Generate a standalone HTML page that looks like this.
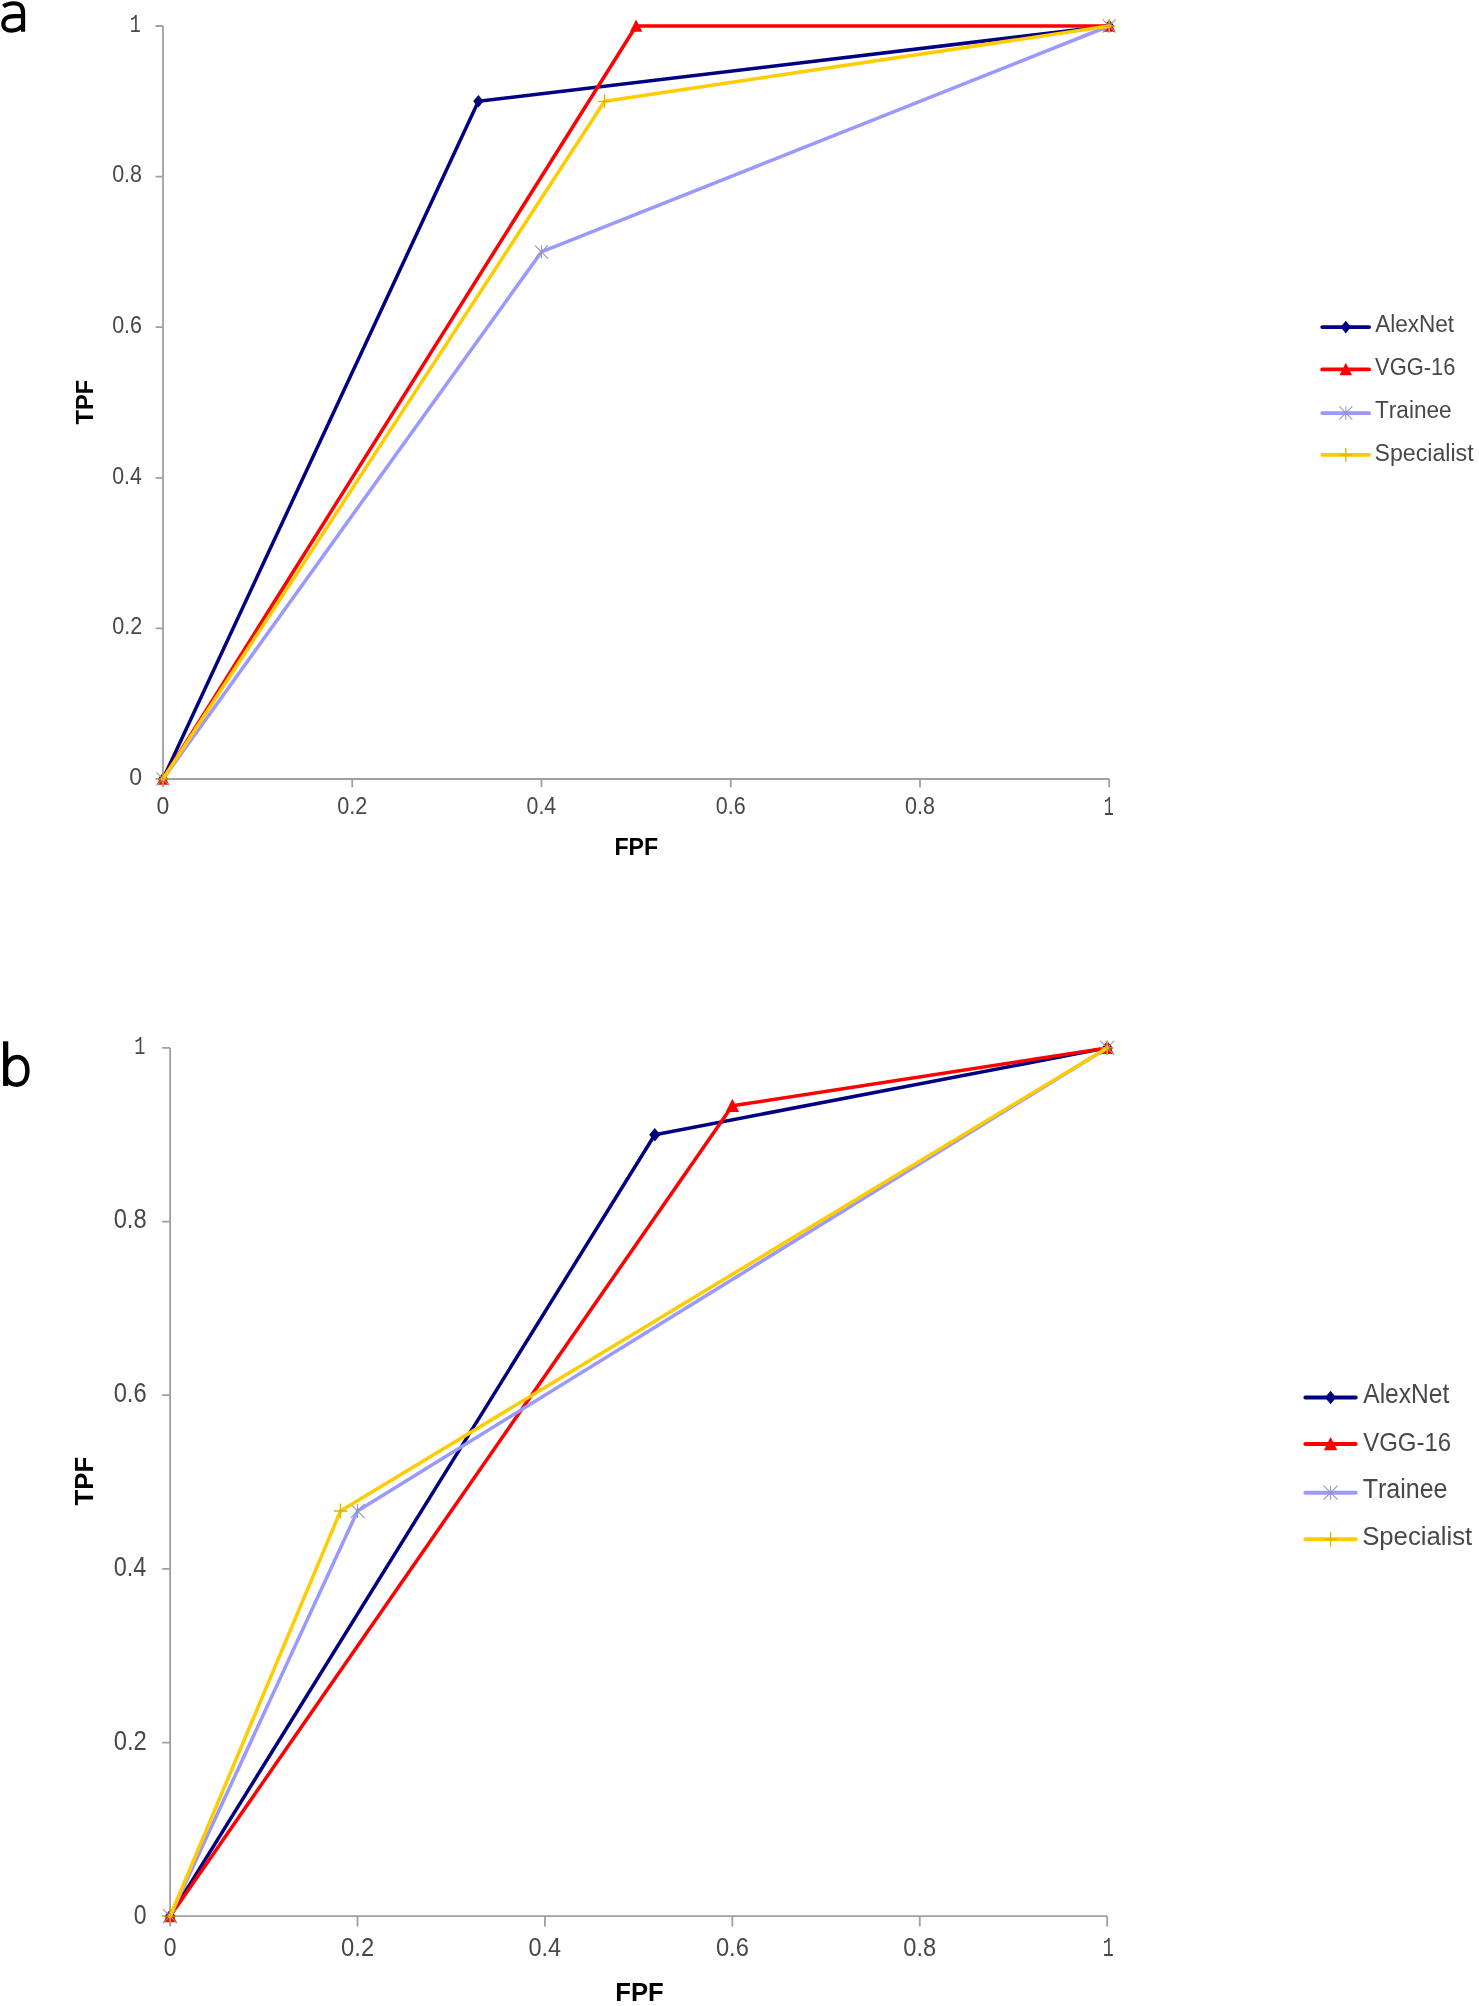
<!DOCTYPE html>
<html><head><meta charset="utf-8"><title>ROC curves</title>
<style>
html,body{margin:0;padding:0;background:#fff;}
body{width:1479px;height:2006px;overflow:hidden;}
svg{display:block;}
text{font-kerning:none;}
</style></head><body>
<div style="will-change:transform;width:1479px;height:2006px"><svg width="1479" height="2006" viewBox="0 0 1479 2006">
<rect width="1479" height="2006" fill="#fff"/>
<path d="M3.3 6.4C6.4 4.1 9.8 3.25 13.6 3.25C19.9 3.25 23.05 6.4 23.05 12.6V31.7M23.05 16.05H14.2C7.2 16.05 3.35 18.9 3.35 23.9C3.35 28.3 6.6 30.65 11.3 30.65C15.9 30.65 19.9 28.5 23.05 25.1" fill="none" stroke="#000" stroke-width="4.2"/>
<path d="M5.66 1041.3V1085.9" stroke="#000" stroke-width="5.2" fill="none"/><path d="M5.9 1066.4C8.3 1060.2 12.4 1056.95 17.2 1056.95C23.4 1056.95 27.4 1062.4 27.4 1070.6C27.4 1079.4 23.1 1084.65 16.6 1084.65C12.2 1084.65 8.2 1082.4 5.9 1077.6" fill="none" stroke="#000" stroke-width="4.5"/>
<g stroke="#A0A0A0" stroke-width="1.8" fill="none">
<path d="M163 26V779M163 779H1109.2"/>
<path d="M155.6 779H163M163 779V787.2M155.6 628.4H163M352.24 779V787.2M155.6 477.8H163M541.48 779V787.2M155.6 327.2H163M730.72 779V787.2M155.6 176.6H163M919.96 779V787.2M155.6 26H163M1109.2 779V787.2"/>
</g>
<text transform="translate(129.2 784.86) scale(0.9472 1)" font-family="'Liberation Sans', sans-serif" font-size="24.29" fill="#484848">0</text>
<text transform="translate(156.6 813.66) scale(0.9472 1)" font-family="'Liberation Sans', sans-serif" font-size="24.29" fill="#484848">0</text>
<text transform="translate(112.16 634.23) scale(0.8892 1)" font-family="'Liberation Sans', sans-serif" font-size="24.29" fill="#484848">0.2</text>
<text transform="translate(337.35 813.66) scale(0.8892 1)" font-family="'Liberation Sans', sans-serif" font-size="24.29" fill="#484848">0.2</text>
<text transform="translate(112.17 483.6) scale(0.8751 1)" font-family="'Liberation Sans', sans-serif" font-size="24.29" fill="#484848">0.4</text>
<text transform="translate(526.6 813.66) scale(0.8751 1)" font-family="'Liberation Sans', sans-serif" font-size="24.29" fill="#484848">0.4</text>
<text transform="translate(112.16 332.97) scale(0.8849 1)" font-family="'Liberation Sans', sans-serif" font-size="24.29" fill="#484848">0.6</text>
<text transform="translate(715.83 813.66) scale(0.8849 1)" font-family="'Liberation Sans', sans-serif" font-size="24.29" fill="#484848">0.6</text>
<text transform="translate(112.16 182.34) scale(0.8846 1)" font-family="'Liberation Sans', sans-serif" font-size="24.29" fill="#484848">0.8</text>
<text transform="translate(905.07 813.66) scale(0.8846 1)" font-family="'Liberation Sans', sans-serif" font-size="24.29" fill="#484848">0.8</text>
<text transform="translate(129.87 31.8) scale(0.7153 1)" font-family="'Liberation Mono', monospace" font-size="25.66" fill="#484848">1</text>
<text transform="translate(1103.69 814.5) scale(0.6244 1)" font-family="'Liberation Mono', monospace" font-size="26.72" fill="#484848">1</text>
<text transform="translate(614.45 855.2) scale(0.9418 1)" font-family="'Liberation Sans', sans-serif" font-weight="bold" font-size="24.56" fill="#000">FPF</text>
<text transform="translate(93.1 424.47) rotate(-90) scale(0.9876 1)" font-family="'Liberation Sans', sans-serif" font-weight="bold" font-size="23.98" fill="#000">TPF</text>
<path d="M163 779L478.4 101.3L1109.2 26" fill="none" stroke="#000080" stroke-width="3.5" stroke-linejoin="round" stroke-linecap="round"/>
<path d="M163 772.7L168.2 779L163 785.3L157.8 779Z" fill="#000080"/>
<path d="M478.4 95L483.6 101.3L478.4 107.6L473.2 101.3Z" fill="#000080"/>
<path d="M1109.2 19.7L1114.4 26L1109.2 32.3L1104 26Z" fill="#000080"/>
<path d="M163 779L636.1 26L1109.2 26" fill="none" stroke="#FF0000" stroke-width="3.5" stroke-linejoin="round" stroke-linecap="round"/>
<path d="M163 772.38L169.24 784.8L156.76 784.8Z" fill="#FF0000"/>
<path d="M636.1 19.38L642.34 31.8L629.86 31.8Z" fill="#FF0000"/>
<path d="M1109.2 19.38L1115.44 31.8L1102.96 31.8Z" fill="#FF0000"/>
<path d="M163 779L541.48 251.9L1109.2 26" fill="none" stroke="#9999FF" stroke-width="3.5" stroke-linejoin="round" stroke-linecap="round"/>
<path d="M156.5 772.38L169.5 785.62M169.5 772.38L156.5 785.62M163 772.38V785.62" stroke="#9494C4" stroke-width="1.05" fill="none"/>
<path d="M534.98 245.28L547.98 258.51M547.98 245.28L534.98 258.51M541.48 245.28V258.51" stroke="#9494C4" stroke-width="1.05" fill="none"/>
<path d="M1102.7 19.38L1115.7 32.62M1115.7 19.38L1102.7 32.62M1109.2 19.38V32.62" stroke="#9494C4" stroke-width="1.05" fill="none"/>
<path d="M163 779L604.56 101.3L1109.2 26" fill="none" stroke="#FFCC00" stroke-width="3.5" stroke-linejoin="round" stroke-linecap="round"/>
<path d="M156.76 779H169.24M163 772.07V785.93" stroke="#D8B400" stroke-width="1.3" fill="none"/>
<path d="M598.32 101.3H610.8M604.56 94.37V108.23" stroke="#D8B400" stroke-width="1.3" fill="none"/>
<path d="M1102.96 26H1115.44M1109.2 19.07V32.93" stroke="#D8B400" stroke-width="1.3" fill="none"/>
<path d="M1322.15 327.1H1369.15" stroke="#000080" stroke-width="3.7" stroke-linecap="round"/>
<path d="M1345.8 320.8L1351 327.1L1345.8 333.4L1340.6 327.1Z" fill="#000080"/>
<text transform="translate(1375.16 332.1) scale(0.9583 1)" font-family="'Liberation Sans', sans-serif" font-size="23.55" fill="#484848">AlexNet</text>
<path d="M1322.15 369.4H1369.15" stroke="#FF0000" stroke-width="3.7" stroke-linecap="round"/>
<path d="M1345.8 362.78L1352.04 375.2L1339.56 375.2Z" fill="#FF0000"/>
<text transform="translate(1375.1 374.5) scale(0.9292 1)" font-family="'Liberation Sans', sans-serif" font-size="23.55" fill="#484848">VGG-16</text>
<path d="M1322.15 413.1H1369.15" stroke="#9999FF" stroke-width="3.7" stroke-linecap="round"/>
<path d="M1339.3 406.49L1352.3 419.72M1352.3 406.49L1339.3 419.72M1345.8 406.49V419.72" stroke="#9494C4" stroke-width="1.05" fill="none"/>
<text transform="translate(1374.99 418.3) scale(0.9321 1)" font-family="'Liberation Sans', sans-serif" font-size="24.27" fill="#484848">Trainee</text>
<path d="M1322.15 454.9H1369.15" stroke="#FFCC00" stroke-width="3.7" stroke-linecap="round"/>
<path d="M1339.56 454.9H1352.04M1345.8 447.97V461.83" stroke="#D8B400" stroke-width="1.3" fill="none"/>
<text transform="translate(1374.45 460.5) scale(0.9846 1)" font-family="'Liberation Sans', sans-serif" font-size="23.55" fill="#484848">Specialist</text>
<g stroke="#A0A0A0" stroke-width="1.8" fill="none">
<path d="M170.1 1047.9V1916.2M170.1 1916.2H1107.2"/>
<path d="M162.2 1916.2H170.1M170.1 1916.2V1926.5M162.2 1742.54H170.1M357.52 1916.2V1926.5M162.2 1568.88H170.1M544.94 1916.2V1926.5M162.2 1395.22H170.1M732.36 1916.2V1926.5M162.2 1221.56H170.1M919.78 1916.2V1926.5M162.2 1047.9H170.1M1107.2 1916.2V1926.5"/>
</g>
<text transform="translate(133.7 1923.74) scale(0.8575 1)" font-family="'Liberation Sans', sans-serif" font-size="26.84" fill="#484848">0</text>
<text transform="translate(163.7 1955.74) scale(0.8712 1)" font-family="'Liberation Sans', sans-serif" font-size="26.41" fill="#484848">0</text>
<text transform="translate(113.67 1749.68) scale(0.8881 1)" font-family="'Liberation Sans', sans-serif" font-size="26.84" fill="#484848">0.2</text>
<text transform="translate(341.09 1955.74) scale(0.9023 1)" font-family="'Liberation Sans', sans-serif" font-size="26.41" fill="#484848">0.2</text>
<text transform="translate(113.68 1575.62) scale(0.8740 1)" font-family="'Liberation Sans', sans-serif" font-size="26.84" fill="#484848">0.4</text>
<text transform="translate(528.52 1955.74) scale(0.8880 1)" font-family="'Liberation Sans', sans-serif" font-size="26.41" fill="#484848">0.4</text>
<text transform="translate(113.67 1401.56) scale(0.8837 1)" font-family="'Liberation Sans', sans-serif" font-size="26.84" fill="#484848">0.6</text>
<text transform="translate(715.93 1955.74) scale(0.8979 1)" font-family="'Liberation Sans', sans-serif" font-size="26.41" fill="#484848">0.6</text>
<text transform="translate(113.67 1227.5) scale(0.8834 1)" font-family="'Liberation Sans', sans-serif" font-size="26.84" fill="#484848">0.8</text>
<text transform="translate(903.35 1955.74) scale(0.8976 1)" font-family="'Liberation Sans', sans-serif" font-size="26.41" fill="#484848">0.8</text>
<text transform="translate(134.16 1053.5) scale(0.7067 1)" font-family="'Liberation Mono', monospace" font-size="26.26" fill="#484848">1</text>
<text transform="translate(1102.67 1956) scale(0.6465 1)" font-family="'Liberation Mono', monospace" font-size="28.39" fill="#484848">1</text>
<text transform="translate(615.29 2001.2) scale(0.9839 1)" font-family="'Liberation Sans', sans-serif" font-weight="bold" font-size="26.02" fill="#000">FPF</text>
<text transform="translate(93.1 1505.49) rotate(-90) scale(0.9754 1)" font-family="'Liberation Sans', sans-serif" font-weight="bold" font-size="26.45" fill="#000">TPF</text>
<path d="M170.1 1916.2L654.81 1134.73L1107.2 1047.9" fill="none" stroke="#000080" stroke-width="3.5" stroke-linejoin="round" stroke-linecap="round"/>
<path d="M170.1 1909.5L175.7 1916.2L170.1 1922.9L164.5 1916.2Z" fill="#000080"/>
<path d="M654.81 1128.03L660.41 1134.73L654.81 1141.43L649.21 1134.73Z" fill="#000080"/>
<path d="M1107.2 1041.2L1112.8 1047.9L1107.2 1054.6L1101.6 1047.9Z" fill="#000080"/>
<path d="M170.1 1916.2L732.36 1105.79L1107.2 1047.9" fill="none" stroke="#FF0000" stroke-width="3.5" stroke-linejoin="round" stroke-linecap="round"/>
<path d="M170.1 1909.16L176.82 1922.36L163.38 1922.36Z" fill="#FF0000"/>
<path d="M732.36 1098.75L739.08 1111.95L725.64 1111.95Z" fill="#FF0000"/>
<path d="M1107.2 1040.87L1113.92 1054.06L1100.48 1054.06Z" fill="#FF0000"/>
<path d="M170.1 1916.2L357.52 1510.99L1107.2 1047.9" fill="none" stroke="#9999FF" stroke-width="3.5" stroke-linejoin="round" stroke-linecap="round"/>
<path d="M163.1 1909.16L177.1 1923.24M177.1 1909.16L163.1 1923.24M170.1 1909.16V1923.24" stroke="#9494C4" stroke-width="1.05" fill="none"/>
<path d="M350.52 1503.96L364.52 1518.03M364.52 1503.96L350.52 1518.03M357.52 1503.96V1518.03" stroke="#9494C4" stroke-width="1.05" fill="none"/>
<path d="M1100.2 1040.87L1114.2 1054.94M1114.2 1040.87L1100.2 1054.94M1107.2 1040.87V1054.94" stroke="#9494C4" stroke-width="1.05" fill="none"/>
<path d="M170.1 1916.2L340.48 1510.99L1107.2 1047.9" fill="none" stroke="#FFCC00" stroke-width="3.5" stroke-linejoin="round" stroke-linecap="round"/>
<path d="M163.38 1916.2H176.82M170.1 1908.83V1923.57" stroke="#D8B400" stroke-width="1.3" fill="none"/>
<path d="M333.76 1510.99H347.2M340.48 1503.62V1518.36" stroke="#D8B400" stroke-width="1.3" fill="none"/>
<path d="M1100.48 1047.9H1113.92M1107.2 1040.53V1055.27" stroke="#D8B400" stroke-width="1.3" fill="none"/>
<path d="M1305.4 1397.5H1355.7" stroke="#000080" stroke-width="4.0" stroke-linecap="round"/>
<path d="M1330.6 1390.8L1336.2 1397.5L1330.6 1404.2L1325 1397.5Z" fill="#000080"/>
<text transform="translate(1363.25 1403.3) scale(0.9197 1)" font-family="'Liberation Sans', sans-serif" font-size="26.74" fill="#484848">AlexNet</text>
<path d="M1305.4 1444.1H1355.7" stroke="#FF0000" stroke-width="4.0" stroke-linecap="round"/>
<path d="M1330.6 1437.06L1337.32 1450.26L1323.88 1450.26Z" fill="#FF0000"/>
<text transform="translate(1363.19 1451.4) scale(0.9105 1)" font-family="'Liberation Sans', sans-serif" font-size="26.31" fill="#484848">VGG-16</text>
<path d="M1305.4 1492.7H1355.7" stroke="#9999FF" stroke-width="4.0" stroke-linecap="round"/>
<path d="M1323.6 1485.66L1337.6 1499.74M1337.6 1485.66L1323.6 1499.74M1330.6 1485.66V1499.74" stroke="#9494C4" stroke-width="1.05" fill="none"/>
<text transform="translate(1362.74 1498.3) scale(0.9348 1)" font-family="'Liberation Sans', sans-serif" font-size="26.74" fill="#484848">Trainee</text>
<path d="M1305.4 1539.3H1355.7" stroke="#FFCC00" stroke-width="4.0" stroke-linecap="round"/>
<path d="M1323.88 1539.3H1337.32M1330.6 1531.93V1546.67" stroke="#D8B400" stroke-width="1.3" fill="none"/>
<text transform="translate(1362.13 1544.5) scale(0.9838 1)" font-family="'Liberation Sans', sans-serif" font-size="26.16" fill="#484848">Specialist</text>
</svg></div>
</body></html>
